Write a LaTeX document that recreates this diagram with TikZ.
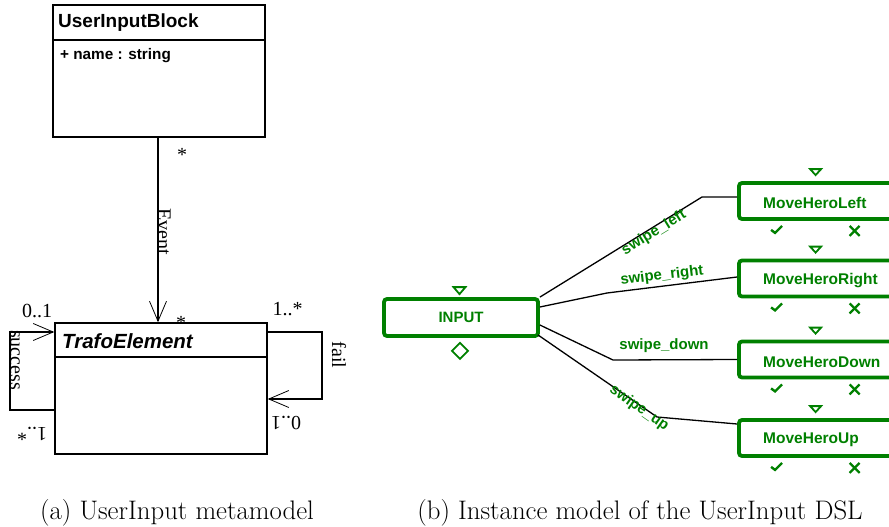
\documentclass[tikz,border=0pt]{standalone}
\usepackage{fontspec}
\newfontfamily\arialf{Liberation Sans}
\newfontfamily\serf{Liberation Serif}
\usetikzlibrary{arrows.meta,calc}
\definecolor{dslgreen}{RGB}{0,128,0}
\begin{document}
\begin{tikzpicture}[x=1pt,y=-1pt,
  umlbox/.style={draw, line width=1.6pt, minimum width=212pt, inner sep=0pt},
  umltitle/.style={anchor=base west, inner sep=0pt, font=\arialf\bfseries\fontsize{19}{22}\selectfont},
  mult/.style={inner sep=0pt, font=\serf\fontsize{20}{22}\selectfont},
  umlarrow/.style={-{Straight Barb[length=20pt,width=17pt,line width=0.8pt]}, line width=1.6pt},
  dslbox/.style={draw=dslgreen, line width=3.8pt, rounded corners=3pt, inner sep=0pt},
  dsltext/.style={text=dslgreen, inner sep=0pt, font=\arialf\bfseries\fontsize{15.5}{18}\selectfont},
  dsllabel/.style={text=dslgreen, inner sep=0pt, font=\arialf\bfseries\fontsize{15}{18}\selectfont},
  dslsign/.style={draw=dslgreen, line width=1.8pt},
  link/.style={line width=1.3pt},
  captext/.style={inner sep=0pt, anchor=base, font=\fontsize{26.8}{30}\selectfont}]
\clip (0,0) rectangle (889,527);
% ---------- (a) metamodel ----------
\node[umlbox, minimum height=132pt] (uib) at (159,71) {};
\draw[line width=1.6pt] ($(uib.north west)+(0,36)$) -- ($(uib.north east)+(0,36)$);
\node[umltitle] (uibname) at (58,28) {UserInputBlock};
\node[anchor=base west, inner sep=0pt, font=\arialf\bfseries\fontsize{15.3}{18}\selectfont] (uibattr) at (60,59.5) {+ name : string};

\node[umlbox, minimum height=131pt] (te) at (161,388.5) {};
\draw[line width=1.6pt] ($(te.north west)+(0,35)$) -- ($(te.north east)+(0,35)$);
\node[umltitle, font=\arialf\bfseries\itshape\fontsize{20.5}{22}\selectfont] (tename) at (62,348) {TrafoElement};

\draw[umlarrow] ($(uib.south)+(-1,0)$) -- ($(te.north)+(-3,0)$);
\node[mult, rotate=-90] (evlabel) at (164,232) {Event};
\node[mult, anchor=north] (star1) at (182,148) {*};
\node[mult, anchor=north] (star2) at (181,316) {*};

\coordinate (sl1) at (10,410);
\coordinate (sl2) at (10,332);
\draw[umlarrow] ($(te.west)+(0,21.5)$) -- (sl1) -- (sl2) -- ($(te.west)+(0,-56.5)$);
\node[mult, rotate=-90] (succ) at (15,360) {success};
\node[mult, anchor=base] (m1) at (37,317) {0..1};
\node[mult, rotate=180] (m2) at (32,434) {1..*};

\coordinate (fl1) at (322,332);
\coordinate (fl2) at (322,399);
\draw[umlarrow] ($(te.east)+(0,-56.5)$) -- (fl1) -- (fl2) -- ($(te.east)+(0,10.5)$);
\node[mult, rotate=-90] (fail) at (339,355) {fail};
\node[mult, anchor=base] (m3) at (287.5,315) {1..*};
\node[mult, rotate=180] (m4) at (286,423) {0..1};

% ---------- (b) instance model ----------
\node[dslbox, minimum width=154pt, minimum height=37pt, text=dslgreen, font=\arialf\bfseries\fontsize{15}{18}\selectfont] (input) at (461,317.5) {INPUT};
\draw[dslsign] ($(input.north)+(-7.5,-10)$) -- ($(input.north)+(4.5,-10)$) -- ($(input.north)+(-1.5,-3)$) -- cycle;
\draw[dslsign] ($(input.south)+(-1,5)$) -- ($(input.south)+(7,13)$) -- ($(input.south)+(-1,21)$) -- ($(input.south)+(-9,13)$) -- cycle;

\node[dslbox, minimum width=170pt, minimum height=36pt] (mhl) at (824,201) {};
\node[dslbox, minimum width=170pt, minimum height=36pt] (mhr) at (824,278.5) {};
\node[dslbox, minimum width=170pt, minimum height=36pt] (mhd) at (824,359.5) {};
\node[dslbox, minimum width=170pt, minimum height=36pt] (mhu) at (824,438) {};
\node[dsltext, anchor=west] (mhltext) at (763,203) {MoveHeroLeft};
\node[dsltext, anchor=west] (mhrtext) at (763,281) {MoveHeroRight};
\node[dsltext, anchor=west] (mhdtext) at (763,362) {MoveHeroDown};
\node[dsltext, anchor=west] (mhutext) at (763,440) {MoveHeroUp};
\foreach \b in {mhl,mhr,mhd,mhu} {
  \draw[dslsign] ($(\b.north west)+(73,-12)$) -- ($(\b.north west)+(84,-12)$) -- ($(\b.north west)+(78.5,-6)$) -- cycle;
  \draw[dslsign, line width=2.4pt] ($(\b.south west)+(34,9)$) -- ($(\b.south west)+(38,12)$) -- ($(\b.south west)+(45,5)$);
  \draw[dslsign, line width=2.2pt] ($(\b.south west)+(112.5,5)$) -- ($(\b.south west)+(122.5,15)$);
  \draw[dslsign, line width=2.2pt] ($(\b.south west)+(112.5,15)$) -- ($(\b.south west)+(122.5,5)$);
}

\coordinate (bl) at (702,197);
\coordinate (br) at (607,293);
\coordinate (bd) at (613,360);
\coordinate (bu) at (657,417);
\draw[link] (input.north east) -- (bl) -- (mhl.west |- bl);
\draw[link] ($(input.east)+(0,-10.5)$) -- (br) -- ($(mhr.west)+(0,-1.5)$);
\draw[link] ($(input.east)+(0,7.5)$) -- (bd) -- (mhd.west);
\draw[link] ($(input.south east)+(-2,-3)$) -- (bu) -- ($(mhu.west)+(0,-14)$);
\node[dsllabel, rotate=31.6] (lleft) at (654,233) {swipe\_left};
\node[dsllabel, rotate=7] (lright) at (662,276) {swipe\_right};
\node[dsllabel] (ldown) at (664,346) {swipe\_down};
\node[dsllabel, rotate=-35] (lup) at (639,408) {swipe\_up};

% ---------- captions ----------
\node[captext] (capa) at (177,519) {(a) UserInput metamodel};
\node[captext] (capb) at (640,519) {(b) Instance model of the UserInput DSL};
\end{tikzpicture}
\end{document}
